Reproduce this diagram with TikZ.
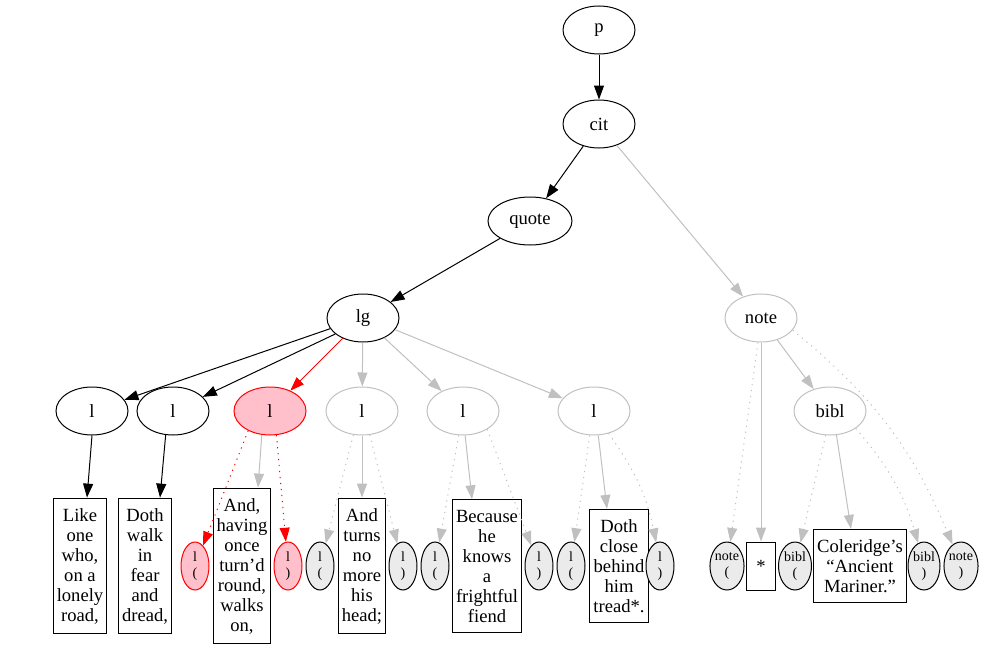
\documentclass[tikz,border=0pt]{standalone}
\usepackage{fontspec}
\setmainfont{Liberation Serif}
\usetikzlibrary{positioning,arrows.meta,shapes.geometric,calc}

\definecolor{edgegray}{HTML}{C0C0C0}
\definecolor{markfill}{HTML}{EBEBEB}
\definecolor{hlfill}{HTML}{FFC0CB}

\begin{document}
\begin{tikzpicture}[
  x=1pt, y=-1pt,
  font=\fontsize{18.6}{20}\selectfont,
  >={Triangle[length=14pt,width=10pt]},
  el/.style={ellipse, draw=black, line width=1pt, minimum width=72pt,
             minimum height=48pt, inner sep=0pt},
  elgray/.style={el, draw=edgegray},
  elhl/.style={el, draw=red, fill=hlfill},
  txt/.style={rectangle, draw=black, line width=1pt, align=center,
              inner xsep=3.5pt, inner ysep=10pt},
  marker/.style={ellipse, draw=black, line width=1pt, fill=markfill,
                 minimum width=28pt, minimum height=48pt, inner sep=0pt,
                 align=center, font=\fontsize{14}{16}\selectfont},
  markerhl/.style={marker, draw=red, fill=hlfill},
  arr/.style={->, line width=1pt, black},
  arrgray/.style={arr, edgegray},
  arrhl/.style={arr, red},
  dotgray/.style={arrgray, dash pattern=on 1.2pt off 4.8pt},
  dothl/.style={arrhl, dash pattern=on 1.2pt off 4.8pt},
]
\useasboundingbox (0,0) rectangle (999,653);

%% ---------- upper tree ----------
\node[el] (p)     at (599,30)  {p};
\node[el] (cit)   at (599,124) {cit};
\node[el, minimum width=84pt] (quote) at (530,221) {quote};
\node[el] (lg)    at (363,318) {lg};
\node[elgray] (note) at (761,318) {note};

%% ---------- line elements ----------
\node[el]     (la) at (92,411)  {l};
\node[el]     (lb) at (173,411) {l};
\node[elhl]   (lc) at (270,411) {l};
\node[elgray] (ld) at (362,411) {l};
\node[elgray] (le) at (463,411) {l};
\node[elgray] (lf) at (594,411) {l};
\node[elgray] (bibl) at (830,411) {bibl};

%% ---------- text leaves ----------
\node[txt] (ta) at (80,566)  {Like\\one\\who,\\on a\\lonely\\road,};
\node[txt] (tb) at (145,566) {Doth\\walk\\in\\fear\\and\\dread,};
\node[txt] (tc) at (242,566) {And,\\having\\once\\turn'd\\round,\\walks\\on,};
\node[txt] (td) at (362,566) {And\\turns\\no\\more\\his\\head;};
\node[txt] (te) at (487,566) {Because\\he\\knows\\a\\frightful\\fiend};
\node[txt] (tf) at (619,566) {Doth\\close\\behind\\him\\tread*.};
\node[txt, minimum width=29pt, minimum height=48pt, inner ysep=0pt] (star) at (761,566) {*};
\node[txt] (cole) at (860,566) {Coleridge's\\``Ancient\\Mariner.''};

%% ---------- open / close markers ----------
\node[markerhl] (lc-o) at (195,566) {l\\(};
\node[markerhl] (lc-c) at (288,566) {l\\)};
\node[marker] (ld-o) at (320,566) {l\\(};
\node[marker] (ld-c) at (403,566) {l\\)};
\node[marker] (le-o) at (435,566) {l\\(};
\node[marker] (le-c) at (539,566) {l\\)};
\node[marker] (lf-o) at (571,566) {l\\(};
\node[marker] (lf-c) at (660,566) {l\\)};
\node[marker, minimum width=34pt] (note-o) at (727,566) {note\\(};
\node[marker, minimum width=33pt] (bibl-o) at (795,566) {bibl\\(};
\node[marker, minimum width=32pt] (bibl-c) at (924,566) {bibl\\)};
\node[marker, minimum width=33pt] (note-c) at (961,566) {note\\)};

%% ---------- edges ----------
\draw[arr] (p) -- (cit);
\draw[arr] (cit) -- (quote);
\draw[arrgray] (cit) -- (note);
\draw[arr] (quote) -- (lg);

\draw[arr] (lg.-162) -- (la);
\draw[arr] (lg.-150) -- (lb);
\draw[arrhl] (lg) -- (lc);
\draw[arrgray] (lg) -- (ld);
\draw[arrgray] (lg) -- (le);
\draw[arrgray] (lg.-20) -- (lf);

%% leaves hang off the line elements, not always from the middle
\draw[arr] (la.south) -- ($(ta.north)+(7,0)$);
\draw[arr] (lb.-107) -- ($(tb.north)+(15,0)$);

\draw[dothl] (lc.-138) -- (lc-o);
\draw[arrgray] (lc.-109) -- ($(tc.north)+(16,0)$);
\draw[dothl] (lc.-75) -- (lc-c);

\draw[dotgray] (ld.-110) -- (ld-o);
\draw[arrgray] (ld) -- (td);
\draw[dotgray] (ld.-72) -- (ld-c);

\draw[dotgray] (le.-100) -- (le-o);
\draw[arrgray] (le.-85) -- ($(te.north)+(-15,0)$);
\draw[dotgray] (le.-37) -- (le-c);

\draw[dotgray] (lf.-100) -- (lf-o);
\draw[arrgray] (lf.-80) -- ($(tf.north)+(-12,0)$);
\draw[dotgray] (lf.-57) to[bend left=12] (lf-c);

%% note and its bibl
\draw[dotgray] (note.-97) -- (note-o);
\draw[arrgray] (note) -- (star);
\draw[arrgray] (note) -- (bibl);
\draw[dotgray] (note.-21) to[bend left=14] (note-c);

\draw[dotgray] (bibl.-100) -- (bibl-o);
\draw[arrgray] (bibl.-75) -- ($(cole.north)+(-9,0)$);
\draw[dotgray] (bibl.-34) to[bend left=12] (bibl-c);

\end{tikzpicture}
\end{document}
